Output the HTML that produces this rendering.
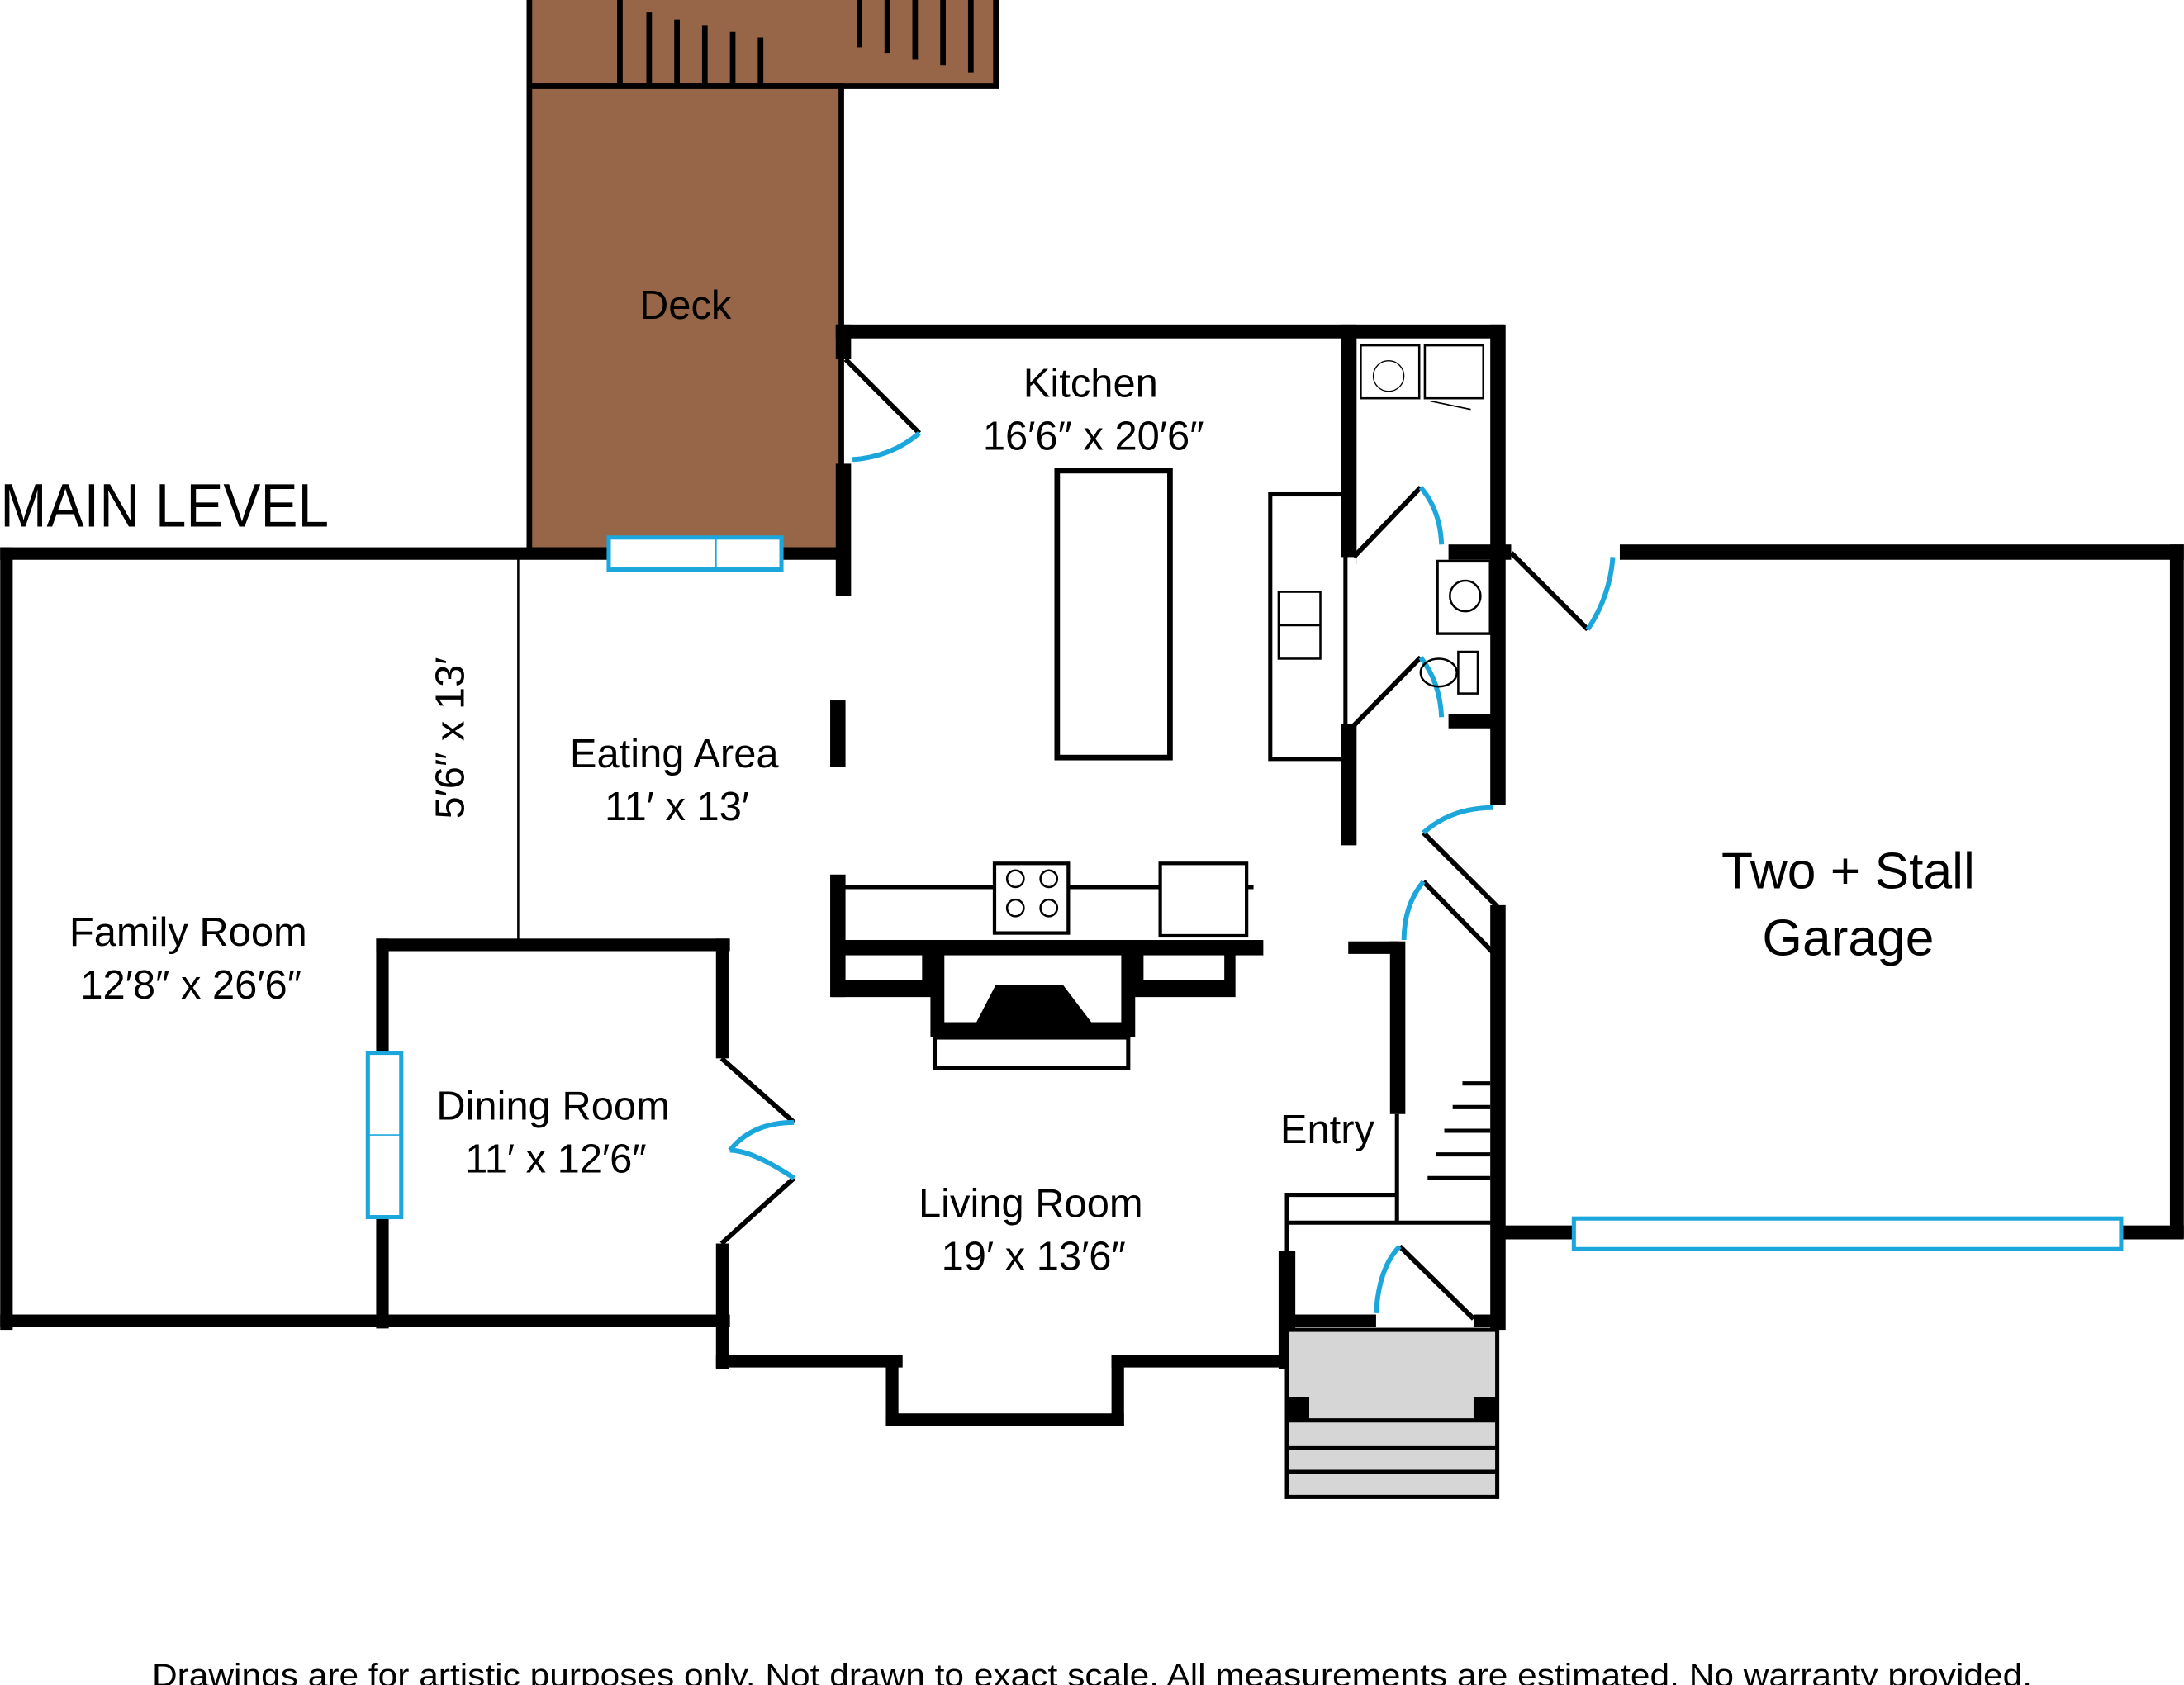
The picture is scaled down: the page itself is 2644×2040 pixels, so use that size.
<!DOCTYPE html>
<html><head><meta charset="utf-8"><style>
html,body{margin:0;padding:0;background:#fff;}
svg{display:block;}
text{font-family:"Liberation Sans",sans-serif;fill:#000;}
</style></head><body>
<svg width="2644" height="2040" viewBox="0 0 1568 1210" xmlns="http://www.w3.org/2000/svg">
<rect width="1568" height="1210" fill="#fff"/>
<!-- Deck -->
<rect x="380" y="-5" width="335" height="67" fill="#976547" stroke="#000" stroke-width="4"/>
<rect x="380" y="62" width="224" height="333" fill="#976547" stroke="#000" stroke-width="4"/>
<g stroke="#000" stroke-width="4">
<line x1="445" y1="0" x2="445" y2="62"/>
<line x1="466" y1="9" x2="466" y2="62"/>
<line x1="486" y1="14" x2="486" y2="62"/>
<line x1="506" y1="18" x2="506" y2="62"/>
<line x1="526" y1="23" x2="526" y2="62"/>
<line x1="546" y1="27" x2="546" y2="62"/>
<line x1="617" y1="0" x2="617" y2="34"/>
<line x1="637" y1="0" x2="637" y2="38"/>
<line x1="657" y1="0" x2="657" y2="43"/>
<line x1="677" y1="0" x2="677" y2="47"/>
<line x1="697" y1="0" x2="697" y2="52"/>
</g>
<!-- walls -->
<g fill="#000">
<rect x="0" y="393" width="610" height="9"/>
<rect x="0" y="393" width="9" height="562"/>
<rect x="0" y="944" width="524" height="9"/>
<rect x="270" y="674" width="254" height="9"/>
<rect x="270" y="674" width="9" height="280"/>
<rect x="514" y="674" width="9" height="86"/>
<rect x="514" y="893" width="9" height="90"/>
<rect x="514" y="973" width="134" height="9"/>
<rect x="636" y="973" width="9" height="51"/>
<rect x="636" y="1015" width="171" height="9"/>
<rect x="798" y="973" width="9" height="51"/>
<rect x="798" y="973" width="130" height="9"/>
<rect x="918" y="898" width="12" height="85"/>
<rect x="600" y="233" width="480" height="10"/>
<rect x="600" y="233" width="11" height="25"/>
<rect x="600" y="333" width="11" height="95"/>
<rect x="596" y="503" width="11" height="48"/>
<rect x="596" y="628" width="11" height="88"/>
<rect x="963" y="233" width="11" height="172"/>
<rect x="963" y="400" width="11" height="22" fill="#fff"/>
<rect x="963" y="520" width="11" height="87"/>
<rect x="1070" y="233" width="11" height="345"/>
<rect x="1070" y="650" width="11" height="305"/>
<rect x="1040" y="391" width="45" height="11"/>
<rect x="1040" y="513" width="35" height="10"/>
<rect x="1163" y="391" width="405" height="11"/>
<rect x="1558" y="391" width="10" height="498"/>
<rect x="1075" y="880" width="55" height="10"/>
<rect x="1523" y="880" width="45" height="10"/>
<rect x="968" y="676" width="36" height="9"/>
<rect x="998" y="676" width="11" height="124"/>
<rect x="924" y="944" width="64" height="9"/>
<rect x="1058" y="944" width="22" height="9"/>
</g>
<g stroke="#000" fill="none">
<line x1="372" y1="400" x2="372" y2="677" stroke-width="1.5"/>
<line x1="1003" y1="800" x2="1003" y2="878" stroke-width="3"/>
<polyline points="924,900 924,858 1003,858" stroke-width="3"/>
<line x1="924" y1="878" x2="1075" y2="878" stroke-width="3"/>
<line x1="1050" y1="778" x2="1070" y2="778" stroke-width="3"/>
<line x1="1043" y1="795" x2="1070" y2="795" stroke-width="3"/>
<line x1="1037" y1="812" x2="1070" y2="812" stroke-width="3"/>
<line x1="1031" y1="829" x2="1070" y2="829" stroke-width="3"/>
<line x1="1025" y1="846" x2="1070" y2="846" stroke-width="3"/>
</g>
<!-- windows -->
<g fill="#fff" stroke="#1ba7dc" stroke-width="3">
<rect x="437" y="386" width="124" height="23"/>
<line x1="514" y1="386" x2="514" y2="409" stroke-width="1"/>
<rect x="264" y="756" width="24" height="118"/>
<line x1="264" y1="815" x2="288" y2="815" stroke-width="1"/>
<rect x="1130" y="875" width="393" height="22"/>
</g>
<!-- doors -->
<g stroke="#000" stroke-width="3.5" fill="none">
<line x1="607" y1="258" x2="660" y2="311"/>
<line x1="972" y1="400" x2="1020" y2="350"/>
<line x1="972" y1="521" x2="1020" y2="472"/>
<line x1="1085" y1="397" x2="1140" y2="452"/>
<line x1="1022" y1="598" x2="1075" y2="651"/>
<line x1="1022" y1="633" x2="1072" y2="684"/>
<line x1="1005" y1="895" x2="1058" y2="947"/>
<line x1="518" y1="760" x2="570" y2="806"/>
<line x1="518" y1="893" x2="570" y2="846"/>
</g>
<g stroke="#1ba7dc" stroke-width="3.5" fill="none">
<path d="M660,311 Q640,328 612,330"/>
<path d="M1020,350 Q1034,366 1035,391"/>
<path d="M1020,472 Q1034,490 1035,515"/>
<path d="M1140,452 Q1156,428 1158,400"/>
<path d="M1022,598 Q1042,580 1072,580"/>
<path d="M1022,633 Q1008,650 1008,675"/>
<path d="M1005,895 Q990,910 988,943"/>
<path d="M570,806 Q540,806 524,826"/>
<path d="M570,846 Q540,826 524,826"/>
</g>
<!-- kitchen fixtures -->
<g stroke="#000" fill="none">
<rect x="759" y="338" width="81" height="206" stroke-width="4"/>
<rect x="912" y="355" width="54" height="190" stroke-width="3"/>
<rect x="918" y="425" width="30" height="48" stroke-width="1.5"/>
<line x1="918" y1="449" x2="948" y2="449" stroke-width="1.5"/>
<rect x="977" y="248" width="42" height="38" stroke-width="1.5"/>
<circle cx="997" cy="270" r="11" stroke-width="0.8"/>
<rect x="1023" y="248" width="42" height="38" stroke-width="1.5"/>
<line x1="1027" y1="288" x2="1056" y2="294" stroke-width="1"/>
<rect x="1032" y="403" width="38" height="52" stroke-width="2"/>
<circle cx="1052" cy="428" r="11" stroke-width="1.5"/>
<rect x="1047" y="468" width="14" height="30" stroke-width="1.5"/>
<ellipse cx="1033" cy="483" rx="13" ry="10" stroke-width="1.5"/>
<line x1="605" y1="637" x2="900" y2="637" stroke-width="3"/>
<rect x="714" y="620" width="53" height="50" stroke-width="2.5" fill="#fff"/>
<circle cx="729" cy="631" r="6" stroke-width="1.5"/>
<circle cx="753" cy="631" r="6" stroke-width="1.5"/>
<circle cx="729" cy="652" r="6" stroke-width="1.5"/>
<circle cx="753" cy="652" r="6" stroke-width="1.5"/>
<rect x="833" y="620" width="62" height="52" stroke-width="2.5" fill="#fff"/>
</g>
<!-- fireplace -->
<g fill="#000">
<rect x="597" y="675" width="310" height="11"/>
<path d="M597,680 H670 V716 H597 Z M605,686 V704 H662 V686 Z" fill-rule="evenodd"/>
<path d="M813,680 H887 V716 H813 Z M821,686 V704 H879 V686 Z" fill-rule="evenodd"/>
<path d="M668,680 H815 V745 H668 Z M678,686 V734 H805 V686 Z" fill-rule="evenodd"/>
<polygon points="715,707 763,707 785,736 700,736"/>
</g>
<rect x="671" y="745" width="139" height="22" fill="none" stroke="#000" stroke-width="3"/>
<!-- stoop -->
<rect x="924" y="955" width="151" height="120" fill="#d6d6d6" stroke="#000" stroke-width="3"/>
<rect x="924" y="1003" width="16" height="17" fill="#000"/>
<rect x="1058" y="1003" width="17" height="17" fill="#000"/>
<g stroke="#000" stroke-width="3">
<line x1="924" y1="1020" x2="1075" y2="1020"/>
<line x1="924" y1="1040" x2="1075" y2="1040"/>
<line x1="924" y1="1057" x2="1075" y2="1057"/>
</g>
<!-- labels -->
<text x="0" y="378" font-size="44" textLength="236" lengthAdjust="spacingAndGlyphs">MAIN LEVEL</text>
<g font-size="29" text-anchor="middle">
<text x="492" y="229">Deck</text>
<text x="783" y="285">Kitchen</text>
<text x="785" y="323">16′6″ x 20′6″</text>
<text x="484" y="551">Eating Area</text>
<text x="486" y="589">11′ x 13′</text>
<text x="135" y="679">Family Room</text>
<text x="137" y="717">12′8″ x 26′6″</text>
<text x="397" y="804">Dining Room</text>
<text x="399" y="842">11′ x 12′6″</text>
<text x="740" y="874">Living Room</text>
<text x="742" y="912">19′ x 13′6″</text>
<text x="953" y="821">Entry</text>
<text transform="translate(333,530) rotate(-90)">5′6″ x 13′</text>
</g>
<g font-size="37" text-anchor="middle">
<text x="1327" y="638">Two + Stall</text>
<text x="1327" y="686">Garage</text>
</g>
<text x="784" y="1211" font-size="23" text-anchor="middle" textLength="1350" lengthAdjust="spacingAndGlyphs">Drawings are for artistic purposes only. Not drawn to exact scale. All measurements are estimated. No warranty provided.</text>
</svg>
</body></html>
